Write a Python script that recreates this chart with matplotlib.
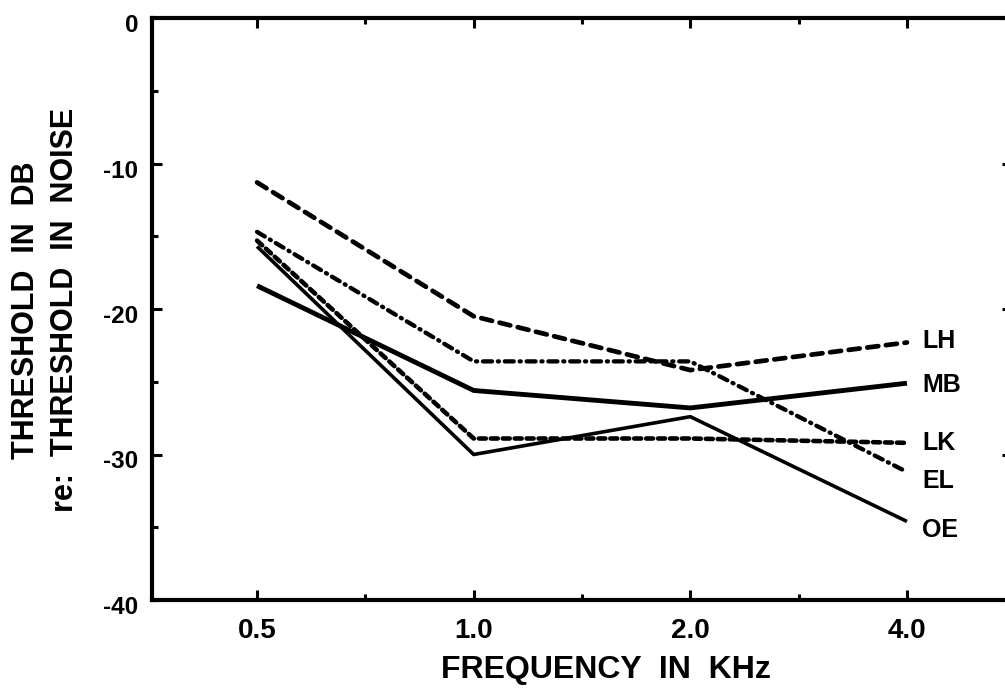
import matplotlib
matplotlib.use("Agg")
import matplotlib.pyplot as plt
from matplotlib.ticker import FixedLocator, NullFormatter
import matplotlib.transforms as mtransforms

plt.rcParams['font.family'] = ['Liberation Sans', 'DejaVu Sans']
plt.rcParams['lines.scale_dashes'] = False

# Frequencies (kHz) and thresholds (dB re: threshold in noise) per listener
freqs = [0.5, 1.0, 2.0, 4.0]
freq_labels = ["0.5", "1.0", "2.0", "4.0"]
lh = [-11.3, -20.5, -24.2, -22.3]
mb = [-18.4, -25.6, -26.8, -25.1]
lk = [-15.3, -28.9, -28.9, -29.2]
el = [-14.7, -23.6, -23.6, -31.2]
oe = [-15.7, -30.0, -27.4, -34.6]

series = [
    ("LH", lh, dict(lw=3.4, ls=(0, (8.0, 5.5)), dash_capstyle="round")),
    ("MB", mb, dict(lw=3.5, ls="-")),
    ("LK", lk, dict(lw=3.3, ls=(0, (5.0, 3.6)), dash_capstyle="round")),
    ("EL", el, dict(lw=3.1, ls=(0, (6.5, 4.2, 0.8, 4.2)), dash_capstyle="round")),
    ("OE", oe, dict(lw=2.6, ls="-")),
]
label_y = {"LH": -22.2, "MB": -25.2, "LK": -29.2, "EL": -31.8, "OE": -35.2}

W, H = 1005, 697
fig = plt.figure(figsize=(W / 100, H / 100), dpi=100)
x0, x1, y0, y1 = 152, 1012, 600, 18
ax = fig.add_axes([x0 / W, 1 - y0 / H, (x1 - x0) / W, (y0 - y1) / H])

for name, vals, style in series:
    ax.plot(freqs, vals, color="black", solid_capstyle="butt",
            clip_on=False, **style)
    ax.text(4.0 * 2 ** 0.07, label_y[name], name, fontsize=18,
            fontweight="bold", va="center", ha="left")

ax.set_xscale("log", base=2)
ax.set_xlim(0.5 * 2 ** -0.485, 4.0 * 2 ** 0.485)
ax.set_ylim(-40, 0)

ax.xaxis.set_major_locator(FixedLocator(freqs))
ax.set_xticklabels(freq_labels)
ax.xaxis.set_minor_locator(FixedLocator([f * 2 ** 0.5 for f in freqs[:-1]]))
ax.xaxis.set_minor_formatter(NullFormatter())
ax.yaxis.set_major_locator(FixedLocator([0, -10, -20, -30, -40]))
ax.yaxis.set_minor_locator(FixedLocator([-5, -15, -25, -35]))
ax.set_yticklabels(["0", "-10", "-20", "-30", "-40"])

for s in ax.spines.values():
    s.set_linewidth(3.0)

ax.tick_params(which="both", direction="in", top=True, right=True,
               width=2.2, color="black")
ax.tick_params(which="major", length=7.5)
ax.tick_params(which="minor", length=4.5)
ax.tick_params(axis="x", which="major", labelsize=20, pad=13)
ax.tick_params(axis="y", which="major", labelsize=17.5, pad=10)
ax.tick_params(axis="y", which="minor", right=False)
for lab in ax.get_xticklabels() + ax.get_yticklabels():
    lab.set_fontweight("bold")
for lab in ax.get_yticklabels():
    lab.set_transform(lab.get_transform() +
                      mtransforms.ScaledTranslation(0, -5 / 100, fig.dpi_scale_trans))

fig.text(606 / W, 1 - 670 / H, "FREQUENCY  IN  KHz", fontsize=23,
         fontweight="bold", ha="center", va="center")
fig.text(26 / W, 1 - 310 / H, "THRESHOLD  IN  DB", fontsize=22,
         fontweight="bold", ha="center", va="center", rotation=90)
fig.text(65 / W, 1 - 310 / H, "re:  THRESHOLD  IN  NOISE", fontsize=22,
         fontweight="bold", ha="center", va="center", rotation=90)

fig.savefig("out.png", dpi=100)
